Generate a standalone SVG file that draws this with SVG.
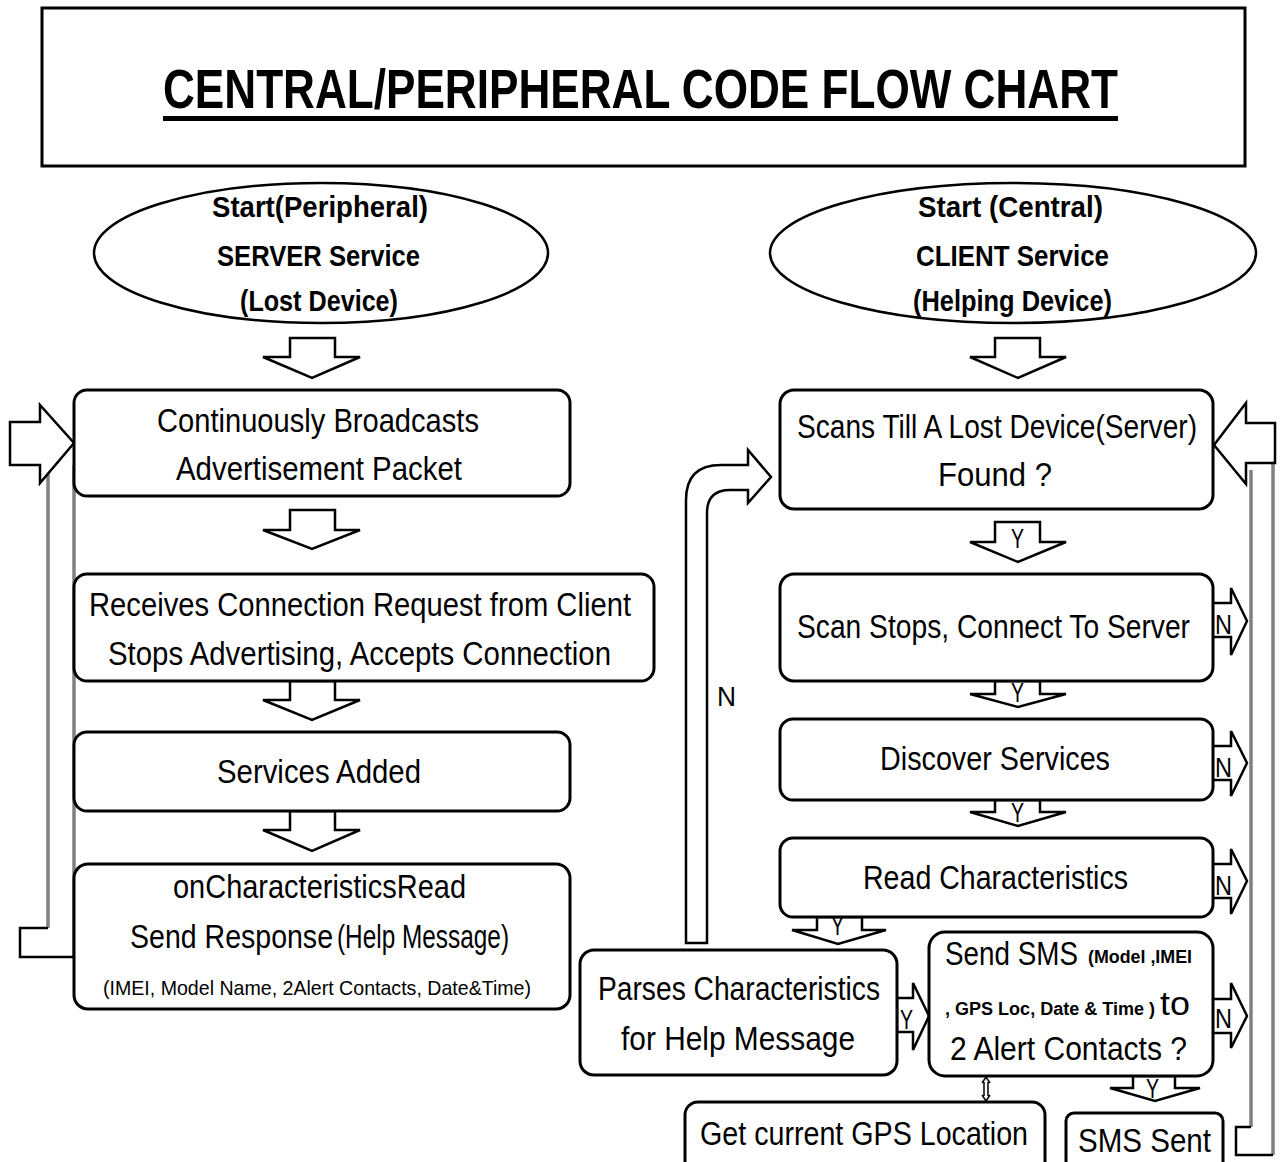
<svg xmlns="http://www.w3.org/2000/svg" width="1281" height="1162" viewBox="0 0 1281 1162">
  <style>
    text { font-family: "Liberation Sans", Arial, sans-serif; fill: #000; }
    .t { font-size: 33px; }
    .b { font-weight: bold; font-size: 30px; }
    .s { font-size: 21px; }
    .xs { font-size: 18px; font-weight: bold; }
    .lbl { font-size: 27px; }
    .box { fill: #fff; stroke: #000; stroke-width: 3; }
    .ell { fill: #fff; stroke: #000; stroke-width: 2.5; }
    .blk { fill: #fff; stroke: #000; stroke-width: 2.5; stroke-linejoin: miter; }
    .open { fill: none; stroke: #000; stroke-width: 2.5; }
    .gray { fill: none; stroke: #808080; stroke-width: 3.5; }
  </style>

  <!-- title -->
  <g id="title">
    <rect x="42" y="8" width="1203" height="158" fill="#fff" stroke="#000" stroke-width="3"/>
    <text x="163" y="108" font-size="56" font-weight="bold" textLength="955" lengthAdjust="spacingAndGlyphs">CENTRAL/PERIPHERAL CODE FLOW CHART</text>
    <rect x="163" y="116" width="955" height="5" fill="#000"/>
  </g>

  <!-- connectors -->
  <g id="connectors">
    <!-- peripheral column block arrows -->
    <path class="blk" d="M290 338 H335 V357 H360 L312 378 L263 357 H290 Z"/>
    <path class="blk" d="M290 510 H335 V530 H360 L312 549 L263 530 H290 Z"/>
    <path class="blk" d="M290 681 H335 V700 H360 L312 720 L263 700 H290 Z"/>
    <path class="blk" d="M290 811 H335 V830 H360 L312 851 L263 830 H290 Z"/>

    <!-- peripheral loop back to broadcasting -->
    <line class="gray" x1="48" y1="474" x2="48" y2="928"/>
    <line class="gray" x1="74" y1="465" x2="74" y2="957"/>
    <path class="open" d="M48 928 H20 V957 H74"/>
    <path class="blk" d="M10 422 H40 V405 L74 443 L40 483 V465 H10 Z"/>

    <!-- central column block arrows -->
    <path class="blk" d="M995 338 H1040 V357 H1066 L1018 378 L970 357 H995 Z"/>
    <path class="blk" d="M995 522 H1040 V542 H1066 L1018 562 L970 542 H995 Z"/>
    <path class="blk" d="M995 681 H1040 V694 H1066 L1018 707 L970 694 H995 Z"/>
    <path class="blk" d="M995 800 H1040 V812 H1066 L1018 826 L970 812 H995 Z"/>
    <path class="blk" d="M817 917 H862 V930 H886 L838 944 L792 930 H817 Z"/>
    <path class="blk" d="M1133 1076 H1175 V1088 H1200 L1155 1101 L1110 1088 H1133 Z"/>

    <!-- parse -> send sms -->
    <path class="blk" d="M897 998 H913 V983 L929 1016 L913 1050 V1032 H897 Z"/>

    <!-- N exits on the right -->
    <path class="blk" d="M1213 603 H1231 V588 L1247 621 L1231 655 V637 H1213"/>
    <path class="blk" d="M1213 746 H1231 V731 L1247 763 L1231 796 V780 H1213"/>
    <path class="blk" d="M1213 864 H1231 V849 L1247 881 L1231 914 V898 H1213"/>
    <path class="blk" d="M1213 999 H1231 V983 L1247 1016 L1231 1048 V1033 H1213"/>

    <!-- central loop back to scanning -->
    <line class="gray" x1="1251" y1="470" x2="1251" y2="1127"/>
    <line class="gray" x1="1273" y1="463" x2="1273" y2="1155"/>
    <path class="open" d="M1251 1127 H1236 V1155 H1273"/>
    <path class="blk" d="M1275 423 H1246 V403 L1214 445 L1246 484 V463 H1275 Z"/>

    <!-- N path from parsing back up to scanning -->
    <path class="blk" d="M686 943 V500 Q686 465 721 465 H748 V450 L771 477 L748 503 V490 H730 Q707 490 707 513 V943 Z"/>

    <!-- GPS link -->
    <path d="M984 1082 V1096 M988 1082 V1096 M982 1083 L986 1077 L990 1083 M982 1095 L986 1101 L990 1095" fill="none" stroke="#000" stroke-width="1.5"/>

    <!-- arrow labels -->
    <text class="lbl" x="1011" y="548" textLength="13" lengthAdjust="spacingAndGlyphs">Y</text>
    <text class="lbl" x="1011" y="702" textLength="13" lengthAdjust="spacingAndGlyphs">Y</text>
    <text class="lbl" x="1011" y="822" textLength="13" lengthAdjust="spacingAndGlyphs">Y</text>
    <text class="lbl" x="831" y="935" textLength="13" lengthAdjust="spacingAndGlyphs">Y</text>
    <text class="lbl" x="900" y="1029" textLength="13" lengthAdjust="spacingAndGlyphs">Y</text>
    <text class="lbl" x="1146" y="1098" textLength="13" lengthAdjust="spacingAndGlyphs">Y</text>
    <text class="lbl" x="1215" y="634" font-size="29" textLength="17" lengthAdjust="spacingAndGlyphs">N</text>
    <text class="lbl" x="1215" y="777" font-size="29" textLength="17" lengthAdjust="spacingAndGlyphs">N</text>
    <text class="lbl" x="1215" y="895" font-size="29" textLength="17" lengthAdjust="spacingAndGlyphs">N</text>
    <text class="lbl" x="1215" y="1028" font-size="29" textLength="17" lengthAdjust="spacingAndGlyphs">N</text>
    <text class="lbl" x="717" y="706" font-size="28" textLength="19" lengthAdjust="spacingAndGlyphs">N</text>
  </g>

  <!-- peripheral (server) side -->
  <g id="start-peripheral">
    <ellipse class="ell" cx="321" cy="253" rx="227" ry="70"/>
    <text class="b" x="212" y="217" textLength="216" lengthAdjust="spacingAndGlyphs">Start(Peripheral)</text>
    <text class="b" x="217" y="266" textLength="203" lengthAdjust="spacingAndGlyphs">SERVER Service</text>
    <text class="b" x="240" y="311" textLength="158" lengthAdjust="spacingAndGlyphs">(Lost Device)</text>
  </g>
  <g id="broadcast">
    <rect class="box" x="74" y="390" width="496" height="106" rx="13"/>
    <text class="t" x="157" y="432" textLength="322" lengthAdjust="spacingAndGlyphs">Continuously Broadcasts</text>
    <text class="t" x="176" y="480" textLength="286" lengthAdjust="spacingAndGlyphs">Advertisement Packet</text>
  </g>
  <g id="accept">
    <rect class="box" x="74" y="574" width="580" height="107" rx="13"/>
    <text class="t" x="89" y="616" textLength="542" lengthAdjust="spacingAndGlyphs">Receives Connection Request  from Client</text>
    <text class="t" x="108" y="665" textLength="503" lengthAdjust="spacingAndGlyphs">Stops Advertising, Accepts Connection</text>
  </g>
  <g id="services-added">
    <rect class="box" x="74" y="732" width="496" height="79" rx="13"/>
    <text class="t" x="217" y="783" textLength="204" lengthAdjust="spacingAndGlyphs">Services Added</text>
  </g>
  <g id="on-read">
    <rect class="box" x="74" y="864" width="496" height="145" rx="14"/>
    <text class="t" x="173" y="898" textLength="293" lengthAdjust="spacingAndGlyphs">onCharacteristicsRead</text>
    <text class="t" x="130" y="948" textLength="203" lengthAdjust="spacingAndGlyphs">Send Response</text>
    <text class="t" x="337" y="948" font-size="28" textLength="172" lengthAdjust="spacingAndGlyphs">(Help Message)</text>
    <text class="s" x="103" y="995" textLength="428" lengthAdjust="spacingAndGlyphs">(IMEI, Model Name, 2Alert Contacts, Date&amp;Time)</text>
  </g>

  <!-- central (client) side -->
  <g id="start-central">
    <ellipse class="ell" cx="1013" cy="253" rx="243" ry="70"/>
    <text class="b" x="918" y="217" textLength="185" lengthAdjust="spacingAndGlyphs">Start (Central)</text>
    <text class="b" x="916" y="266" textLength="193" lengthAdjust="spacingAndGlyphs">CLIENT Service</text>
    <text class="b" x="913" y="311" textLength="199" lengthAdjust="spacingAndGlyphs">(Helping Device)</text>
  </g>
  <g id="scan">
    <rect class="box" x="780" y="390" width="433" height="119" rx="14"/>
    <text class="t" x="797" y="438" textLength="400" lengthAdjust="spacingAndGlyphs">Scans Till A Lost Device(Server)</text>
    <text class="t" x="938" y="486" textLength="114" lengthAdjust="spacingAndGlyphs">Found  ?</text>
  </g>
  <g id="connect">
    <rect class="box" x="780" y="574" width="433" height="107" rx="14"/>
    <text class="t" x="797" y="638" textLength="393" lengthAdjust="spacingAndGlyphs">Scan Stops, Connect To Server</text>
  </g>
  <g id="discover">
    <rect class="box" x="780" y="719" width="433" height="81" rx="13"/>
    <text class="t" x="880" y="770" textLength="230" lengthAdjust="spacingAndGlyphs">Discover Services</text>
  </g>
  <g id="read-char">
    <rect class="box" x="780" y="838" width="433" height="79" rx="13"/>
    <text class="t" x="863" y="889" textLength="265" lengthAdjust="spacingAndGlyphs">Read Characteristics</text>
  </g>
  <g id="parse">
    <rect class="box" x="580" y="950" width="317" height="125" rx="14"/>
    <text class="t" x="598" y="1000" textLength="282" lengthAdjust="spacingAndGlyphs">Parses Characteristics</text>
    <text class="t" x="621" y="1050" textLength="234" lengthAdjust="spacingAndGlyphs">for Help Message</text>
  </g>
  <g id="send-sms">
    <rect class="box" x="929" y="932" width="284" height="144" rx="16"/>
    <text class="t" x="945" y="965" textLength="133" lengthAdjust="spacingAndGlyphs">Send SMS</text>
    <text class="xs" x="1088" y="963" textLength="104" lengthAdjust="spacingAndGlyphs">(Model ,IMEI</text>
    <text class="xs" x="945" y="1015" textLength="210" lengthAdjust="spacingAndGlyphs">, GPS Loc, Date &amp; Time )</text>
    <text class="t" x="1160" y="1015" textLength="30" lengthAdjust="spacingAndGlyphs">to</text>
    <text class="t" x="950" y="1060" textLength="237" lengthAdjust="spacingAndGlyphs">2 Alert Contacts ?</text>
  </g>
  <g id="gps">
    <rect class="box" x="685" y="1102" width="360" height="90" rx="13"/>
    <text class="t" x="700" y="1145" textLength="328" lengthAdjust="spacingAndGlyphs">Get current GPS Location</text>
  </g>
  <g id="sms-sent">
    <rect class="box" x="1066" y="1113" width="157" height="80" rx="8"/>
    <text class="t" x="1078" y="1152" textLength="133" lengthAdjust="spacingAndGlyphs">SMS  Sent</text>
  </g>
</svg>
